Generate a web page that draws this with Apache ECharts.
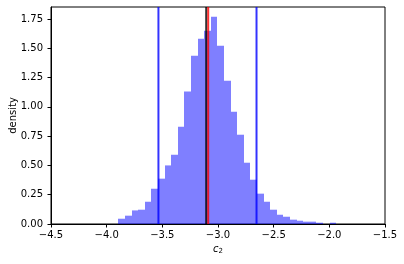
<!DOCTYPE html>
<html>
<head>
<meta charset="utf-8">
<script src="https://cdn.jsdelivr.net/npm/echarts@6/dist/echarts.min.js"></script>
<style>
html,body{margin:0;padding:0;background:#fff;}
#chart{width:404px;height:264px;}
</style>
</head>
<body>
<div id="chart"></div>
<script>
// Histogram bin edges (34 edges -> 33 bins)
const binEdges = [-3.895, -3.836, -3.776, -3.717, -3.658, -3.599, -3.539, -3.480, -3.421, -3.361,
  -3.302, -3.243, -3.183, -3.124, -3.065, -3.006, -2.946, -2.887, -2.828, -2.768,
  -2.709, -2.650, -2.590, -2.531, -2.472, -2.413, -2.353, -2.294, -2.235, -2.175,
  -2.116, -2.057, -1.997, -1.938];
// Density of each bin
const density = [0.045, 0.071, 0.116, 0.122, 0.190, 0.301, 0.387, 0.500, 0.591, 0.830,
  1.131, 1.436, 1.581, 1.649, 1.769, 1.521, 1.223, 0.958, 0.762, 0.523,
  0.378, 0.259, 0.190, 0.122, 0.079, 0.062, 0.037, 0.028, 0.020, 0.020,
  0.011, 0.000, 0.011];
// Vertical reference lines
const lowerBound = -3.535;
const upperBound = -2.654;
const blackLine = -3.106;
const redLine = -3.088;
// Axes
const xTicks = [-4.5, -4.0, -3.5, -3.0, -2.5, -2.0, -1.5];
const yTicks = [0.00, 0.25, 0.50, 0.75, 1.00, 1.25, 1.50, 1.75];
const xMin = -4.5, xMax = -1.5, yMin = 0, yMax = 1.852;

const histData = density.map((d, i) => [binEdges[i], binEdges[i + 1], d]);
const vline = (x) => [[x, yMin], [x, yMax]];

const chart = echarts.init(document.getElementById('chart'), null, {renderer: 'canvas'});
const font = 'DejaVu Sans';
chart.setOption({
  animation: false,
  backgroundColor: '#fff',
  grid: {left: 51, right: 19, top: 7, bottom: 40, containLabel: false, outerBoundsMode: 'none',
    show: true, borderColor: '#000', borderWidth: 1, backgroundColor: 'transparent'},
  xAxis: {
    type: 'value', min: xMin, max: xMax, interval: 0.5,
    splitLine: {show: false},
    axisLine: {show: true, onZero: false, lineStyle: {color: '#000', width: 1}},
    axisTick: {show: true, length: 3.5, lineStyle: {color: '#000', width: 1}, customValues: xTicks},
    axisLabel: {customValues: xTicks, margin: 6, color: '#000', fontFamily: font, fontSize: 10,
      formatter: v => v.toFixed(1).replace('-', '\u2212')},
    name: '{i|c}{s|2}', nameLocation: 'middle', nameGap: 19, nameMoveOverlap: false,
    nameTextStyle: {rich: {
      i: {fontFamily: font, fontStyle: 'italic', fontSize: 10, color: '#000'},
      s: {fontFamily: font, fontSize: 7, color: '#000', padding: [5, 0, 0, 0]}
    }}
  },
  yAxis: {
    type: 'value', min: yMin, max: yMax,
    splitLine: {show: false},
    axisLine: {show: true, lineStyle: {color: '#000', width: 1}},
    axisTick: {show: true, length: 3.5, lineStyle: {color: '#000', width: 1}, customValues: yTicks},
    axisLabel: {customValues: yTicks, margin: 8, color: '#000', fontFamily: font, fontSize: 10,
      formatter: v => v.toFixed(2)},
    name: 'density', nameLocation: 'middle', nameGap: 33, nameRotate: 90, nameMoveOverlap: false,
    nameTextStyle: {fontFamily: font, fontSize: 10, color: '#000'}
  },
  series: [
    {
      type: 'custom', data: histData, encode: {x: [0, 1], y: 2}, z: 2, silent: true,
      renderItem: function (params, api) {
        const p0 = api.coord([api.value(0), api.value(2)]);
        const p1 = api.coord([api.value(1), 0]);
        const x0 = Math.round(p0[0]), x1 = Math.round(p1[0]);
        return {type: 'rect', shape: {x: x0, y: p0[1], width: x1 - x0, height: p1[1] - p0[1]},
          style: {fill: 'rgba(0,0,255,0.5)'}};
      }
    },
    {type: 'line', data: vline(lowerBound), showSymbol: false, silent: true, z: 3,
      lineStyle: {color: 'rgba(0,0,255,0.8)', width: 2}},
    {type: 'line', data: vline(upperBound), showSymbol: false, silent: true, z: 3,
      lineStyle: {color: 'rgba(0,0,255,0.8)', width: 2}},
    {type: 'line', data: vline(blackLine), showSymbol: false, silent: true, z: 3,
      lineStyle: {color: 'rgba(0,0,0,0.8)', width: 2}},
    {type: 'line', data: vline(redLine), showSymbol: false, silent: true, z: 4,
      lineStyle: {color: 'rgba(255,0,0,0.8)', width: 2}}
  ]
});
</script>
</body>
</html>
